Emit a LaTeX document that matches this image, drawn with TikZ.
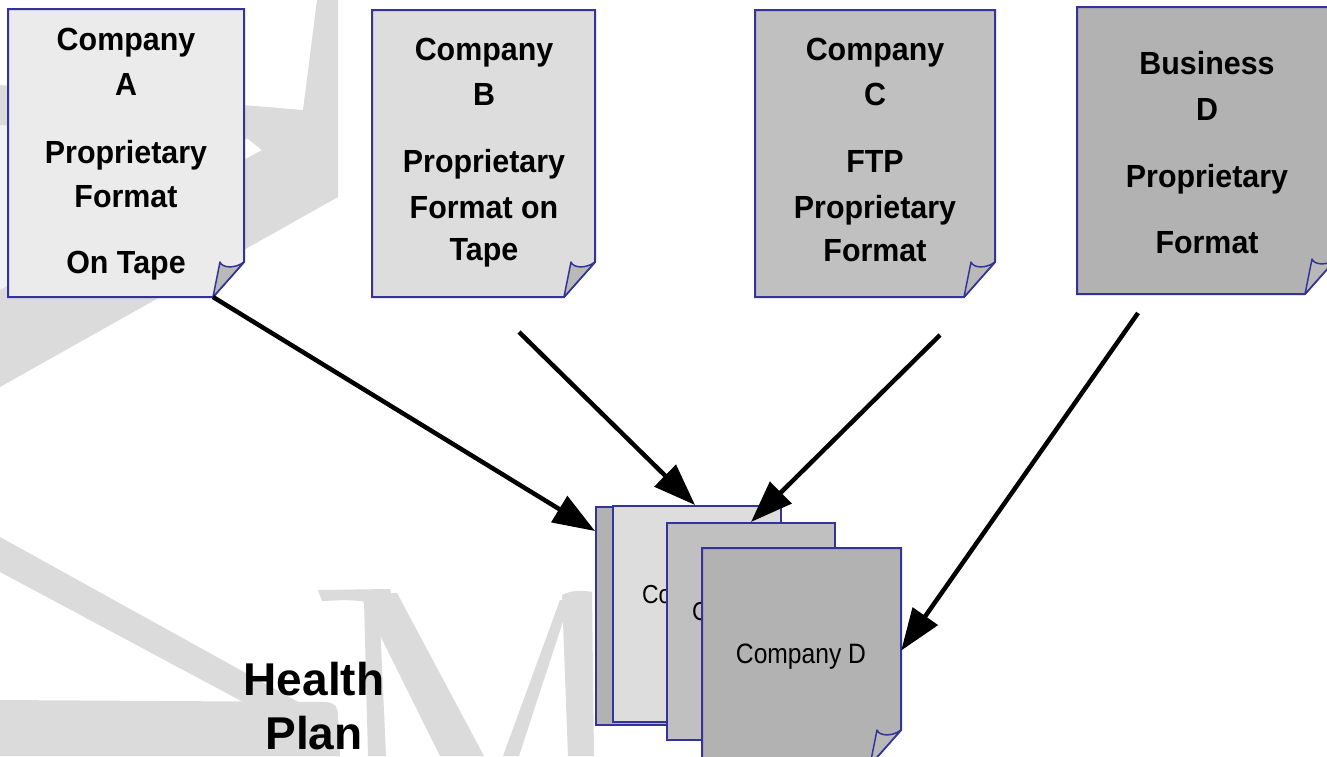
\documentclass[tikz,border=0pt]{standalone}
\usepackage{fontspec}
\setmainfont{Liberation Sans}
\newfontfamily\boxfont{Liberation Sans}[FakeStretch=0.95]
\newfontfamily\sheetfont{Liberation Sans}[FakeStretch=0.88]
\usetikzlibrary{arrows.meta,calc,fit}

\definecolor{edgeblue}{RGB}{51,51,153}
\definecolor{fillA}{RGB}{235,235,235}
\definecolor{fillB}{RGB}{221,221,221}
\definecolor{fillC}{RGB}{192,192,192}
\definecolor{fillD}{RGB}{178,178,178}
\definecolor{foldgrey}{RGB}{185,185,185}
\definecolor{wmgrey}{RGB}{219,219,219}
\definecolor{wmlight}{RGB}{238,242,244}

\tikzset{
  page/.style={draw=edgeblue, line width=2pt, line join=miter},
  foldpart/.style={draw=edgeblue, line width=1.5pt, fill=foldgrey, line join=round},
  wm/.style={fill=wmgrey, draw=none},
  boxtext/.style={font=\boxfont\bfseries\fontsize{32}{38}\selectfont, anchor=base, inner sep=0pt},
  sheettext/.style={font=\sheetfont\fontsize{28}{32}\selectfont, anchor=base, inner sep=0pt},
  titletext/.style={font=\bfseries\fontsize{46}{52}\selectfont, anchor=base, inner sep=0pt},
  flow/.style={line width=4.5pt, -{Triangle[length=42pt,width=30pt]}},
}

% name, x1, y1, x2, y2, fill colour (pixel coordinates, y downward)
\newcommand\docpage[6]{%
  \draw[page, fill=#6] (#2,#3) -- (#4,#3) -- (#4,{#5-35}) -- ({#4-31},#5) -- (#2,#5) -- cycle;
  \draw[foldpart] ({#4-31},#5) -- ({#4-24},{#5-35})
     .. controls ({#4-22},{#5-29}) and ({#4-9},{#5-28}) .. (#4,{#5-35}) -- cycle;
  \coordinate (#1-corner) at ({#4-31},#5);
  \node[fit={(#2,#3) (#4,#5)}, inner sep=0pt] (#1) {};
}

\begin{document}
\begin{tikzpicture}[x=1pt, y=-1pt]
\clip (0,0) rectangle (1327,756);
\fill[white] (0,0) rectangle (1327,756);

% background watermark
\fill[wmlight] (0,125) rectangle (8,290);
\fill[wm] (0,85) -- (303,110) -- (317,0) -- (338,0) -- (338,197) -- (0,387) -- (0,290)
   -- (262,150) -- (248,139) -- (0,125) -- cycle;
\fill[wm] (0,537) -- (300,703) -- (245,703) -- (0,572) -- cycle;
\fill[wm] (0,700) -- (326,702) .. controls (336,703) and (338,708) .. (338,716) -- (340,756) -- (0,756) -- cycle;
\fill[wm] (318,590) -- (390,589) -- (393,603) -- (345,600) -- (322,601) -- cycle;
\fill[wm] (364,600) -- (379,600) -- (386,756) -- (368,756) -- cycle;
\fill[wm] (360,595) -- (397,593) -- (484,756) -- (440,756) -- cycle;
\fill[wm] (503,756) -- (519,756) -- (570,600) -- (560,600) -- cycle;
\fill[wm] (562,595) .. controls (572,590) and (582,590) .. (592,592) -- (594,756) -- (568,756) -- cycle;

% source documents
\docpage{docA}{8}{9}{244}{297}{fillA}
\docpage{docB}{372}{10}{595}{297}{fillB}
\docpage{docC}{755}{10}{995}{297}{fillC}
\docpage{docD}{1077}{7}{1336}{294}{fillD}

\node[boxtext] (a1) at (126,50) {Company};
\node[boxtext] (a2) at (126,95) {A};
\node[boxtext] (a3) at (126,163) {Proprietary};
\node[boxtext] (a4) at (126,207) {Format};
\node[boxtext] (a5) at (126,273) {On Tape};

\node[boxtext] (b1) at (484,60) {Company};
\node[boxtext] (b2) at (484,105) {B};
\node[boxtext] (b3) at (484,172) {Proprietary};
\node[boxtext] (b4) at (484,218) {Format on};
\node[boxtext] (b5) at (484,260) {Tape};

\node[boxtext] (c1) at (875,60) {Company};
\node[boxtext] (c2) at (875,105) {C};
\node[boxtext] (c3) at (875,172) {FTP};
\node[boxtext] (c4) at (875,218) {Proprietary};
\node[boxtext] (c5) at (875,261) {Format};

\node[boxtext] (d1) at (1207,74) {Business};
\node[boxtext] (d2) at (1207,120) {D};
\node[boxtext] (d3) at (1207,187) {Proprietary};
\node[boxtext] (d4) at (1207,253) {Format};

% stack of merged documents
\node[page, fill=fillD, fit={(596,507) (764,725)}, inner sep=0pt] (s1) {};
\node[page, fill=fillB, fit={(613,506) (781,722)}, inner sep=0pt] (s2) {};
\node[sheettext, anchor=base west, font=\sheetfont\fontsize{26}{30}\selectfont] (s2t) at (642,603) {Co};
\node[page, fill=fillC, fit={(667,523) (835,740)}, inner sep=0pt] (s3) {};
\node[sheettext, anchor=base west, font=\sheetfont\fontsize{26}{30}\selectfont] (s3t) at (692,620) {C};
\docpage{s4}{702}{548}{901}{765}{fillD}
\node[sheettext] (s4t) at (801,663) {Company D};

% title
\node[titletext] (hp1) at (314,695) {Health};
\node[titletext] (hp2) at (314,749) {Plan};

% connectors
\coordinate (bStart) at (519,332);
\coordinate (cStart) at (940,335);
\coordinate (dStart) at (1138,313);
\draw[flow] (docA-corner) -- ($(s1.north west)+(0,25)$);
\draw[flow] (bStart) -- ($(s2.north)+(-2,0)$);
\draw[flow] (cStart) -- (s3.north);
\draw[flow] (dStart) -- ($(s4.east)+(0,-6)$);
\end{tikzpicture}
\end{document}
